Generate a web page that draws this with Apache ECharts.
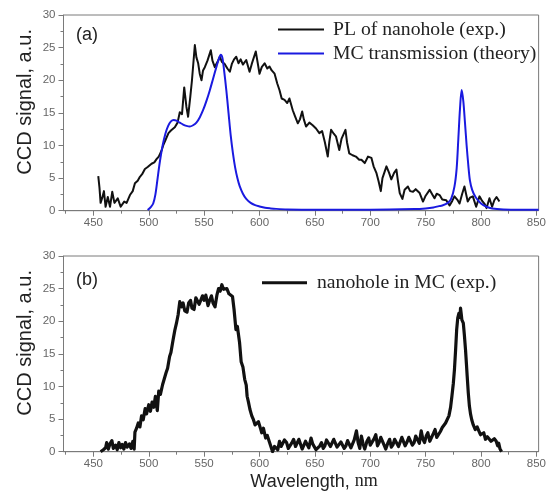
<!DOCTYPE html>
<html>
<head>
<meta charset="utf-8">
<script src="https://cdn.jsdelivr.net/npm/echarts@6/dist/echarts.min.js"></script>
<style>
html,body{margin:0;padding:0;background:#fff;}
#chart{width:549px;height:504px;}
</style>
</head>
<body>
<div id="chart"></div>
<script>
// ---------- data ----------
const xMin = 423, xMax = 852;
const xTickLabels = [450, 500, 550, 600, 650, 700, 750, 800, 850];
const xMinorTicks = [425, 475, 525, 575, 625, 675, 725, 775, 825];
const yTickLabels = [0, 5, 10, 15, 20, 25, 30];

const seriesNames = ['PL of nanohole (exp.)', 'MC transmission (theory)', 'nanohole in MC (exp.)'];
const panelLabels = ['(a)', '(b)'];
const yTitle = 'CCD signal, a.u.';

// (a) PL of nanohole (exp.)
const plWl = [454.4,455.5,456.5,458,459.5,461,463,465,467,469,470,472,474.6,477.8,480,483,485.5,487.5,490,492,494,496.5,499,502.5,505,507,509,511.5,513,515,517.8,520,523.5,526,528,530,532,534,535.5,537.5,539,541.6,543,544.6,546,547.6,549,550.6,553,556,557.5,559.6,561,562.6,564.2,566,568.5,571,573.2,575,577,579,581,583,585,588,591,593,596.6,598,600,602,604.6,607,609,611,613.6,616,618,620,622.6,625,627,630,632,634.6,636.5,638.5,640,642,645,648,651,654,656.5,659,661.6,663,664.6,667,669,672,674,677.6,679,681,684,687,690,692,695,698,701,703,705.5,707.5,709.5,711,714.6,717,719,721.5,723.6,725,726.6,729,731,734,736,738.6,741,744.6,747.6,750,753.6,756,758,760,762.6,765,768.6,771.6,774,776,778.5,780.6,783,785,788,790,792.6,795.6,798.6,801,803,805,807.6,810,812,814,816.6];
const plVal = [5.3,3.5,1.2,2.0,3.0,0.6,2.1,0.6,2.9,1.2,1.0,1.9,0.6,1.4,1.2,2.4,3.0,4.2,4.6,5.2,5.6,6.4,6.7,7.2,7.4,7.9,8.3,9.2,10.0,10.8,11.9,12.3,12.8,13.5,15.1,14.8,18.9,15.9,14.4,17.5,20,25.4,23.5,22.6,21,20,21.5,22,23,24.6,23,22,22.5,23,23.6,22.8,22.5,21.8,21.3,22.5,23.2,23.6,22.6,23.2,22.4,23.1,21.3,22.5,24.4,23,21,22,22.6,21.8,22.1,21.5,21,19.5,18.5,17.2,17,16.5,17.2,15.4,14.5,13.4,14,15.2,14,12.9,13.5,13.1,12.6,11.9,12.2,10.5,8.3,10.5,12.4,11.8,11.4,9.3,11,12.4,10.5,8.8,8.5,8.3,7.8,7.8,7.3,8.3,8.1,6.8,5.8,4.5,3.0,5,6.8,5.8,4.8,5.8,6.3,4.5,2.7,1.8,3.2,3.7,3.0,2.9,3.3,2.7,1.4,2.3,3.2,2.5,1.9,2.6,2.4,1.7,1.6,0.8,1.5,2.2,1.7,1.1,2.6,3.7,1.4,2.0,2.2,0.6,2.2,1.5,1.1,0.4,1.9,0.6,1.6,2.1,1.4];

// (a) MC transmission (theory)
const mcWl = [499,502,504,506,508,510,512.5,515,517.5,520,522.5,525,528,531,534,537,540,543,546,549,552,555,558,561,563.5,565,566.5,568,570,572,574,576,578,580,582,585,588,592,596,600,605,610,615,625,650,700,740,750,757,762,765,770,773,776,778,779.5,781,782.5,784,785.5,787,788.5,790,792,795,800,805,810,820,835,852];
const mcVal = [0.1,0.6,1.1,2.5,5,7.5,10,11.8,13,13.7,13.9,13.8,13.5,13.2,13.0,12.9,13.1,13.5,14.3,15.4,16.8,18.4,20.2,22,23.4,23.9,23.4,21.5,18.5,15,11.5,8.8,6.6,5,3.8,2.6,1.8,1.2,0.85,0.65,0.45,0.35,0.28,0.2,0.15,0.15,0.25,0.35,0.5,0.7,0.8,1.2,1.8,3.7,6.5,11,15.6,18.5,16.8,13.5,10,7,4.6,3.2,2.1,1.1,0.6,0.35,0.2,0.15,0.15];

// (b) nanohole in MC (exp.)
const nhWl = [456.5,459,461,462,463.5,465,466.7,468,470,471.5,473,474.5,476,477.5,479,480.5,482.5,484,485.6,486.8,487.5,489,490.5,492,493.5,495,496.7,498,500,501.5,503,504.5,506,507.7,509,510.5,512.5,514,515.6,517,518.8,520,522,523.5,525,526.5,528,529.5,531,532.5,534.5,536,537.7,539,540.9,542.5,544,545.5,547,548.5,550,551.5,553.5,555,556.6,558,559.8,561.5,563,564.5,566,567.5,569,570.5,572.4,574,575.6,577,578.7,580,582,583.4,585,586.6,588,588.8,590,591.3,593,594.5,596,597.6,599,600,601,602,603.5,605.5,607,608.7,610,611.8,613.5,615,616.5,618,619.5,621,622.5,624.4,626,627.6,629,630.8,632.5,634,635.5,637,638.5,640,641.5,643,644.5,646.5,648,649.7,651,652.8,654.5,656,657.5,659,660.5,662.3,664,665.5,667,668.6,670,671.8,673.5,675,676.5,678,679.5,681,682.5,684,685.5,687.5,689,690.5,692,693.5,695,697,698.6,700,701.7,703.5,705,706.5,708,709.5,711,712.5,714,715.8,717.5,719,720.6,722,723.8,725.5,727,728.5,730,731.5,733,734.8,736.4,738,739.6,741,742.7,744.3,746,747.5,749,750.5,752,753.7,755.4,757,758.5,760,761.7,763.3,765,766.5,768,769.5,771,772.5,773.7,775,776,777,778,779,780,781,781.5,782.2,782.7,784,785,786,786.8,787.5,788.5,789.5,790.5,791.6,793,794.8,796.5,798,799.5,801,802.5,804,805.7,807.4,809,810.6,812,813.7,815,816,817,818.5];
const nhVal = [0,0.3,0.6,1.4,0.4,1.2,1.7,0.5,1.0,0.3,1.4,0.6,1.1,0.4,1.4,0.7,1.2,0.5,1.6,0.4,3.0,3.6,4.4,3.8,5.5,4.9,6.6,5.8,7.2,6.2,7.6,6.8,8.5,6.3,9.3,8.8,10.3,10.0,12.1,12.8,14.6,15.2,17.2,18.6,19.7,21.0,23.0,22.2,22.8,21.6,21.4,22.8,23.2,22.0,21.8,23.6,23.9,22.6,22.8,23.9,23.2,24.0,22.4,23.2,23.9,22.8,22.2,24.0,25.0,24.6,25.6,24.9,24.6,25.0,24.2,24.4,23.8,21.8,18.7,19.2,16.7,13.8,13.0,11.1,10.2,8.5,7.6,6.5,5.5,4.9,4.1,3.9,4.6,4.8,3.5,2.9,3.6,2.1,2.5,1.6,1.9,0,0.8,0.9,0.3,1.6,0.8,0.6,1.8,1.4,0.5,0.4,1.3,1.9,0.8,0.9,1.9,1.6,0.4,0.6,1.6,1.4,0.6,2.1,1.2,0.9,0.3,0,0.9,1.4,0.5,0.9,1.8,1.9,0.8,1.1,1.9,1.6,0.7,0.6,1.5,1.4,0.5,0.9,1.7,1.9,0.6,0.9,1.8,3.2,1.4,0.5,2.4,1.2,0.4,1.6,2.1,1.0,0.9,2.0,2.6,0.9,1.4,2.2,2.4,1.0,0.4,1.3,1.9,0.7,1.1,1.9,2.1,0.8,1.1,2.2,1.9,0.9,1.4,2.2,2.1,1.0,1.4,2.4,2.1,1.3,3.2,1.9,1.4,2.4,2.9,1.6,1.9,2.8,3.4,2.2,2.1,3.1,3.7,3.4,4.4,4.6,5.5,6.8,8.5,10.5,12.6,15.5,18.7,20.5,21.2,20.6,22.0,21.0,20.2,19.7,17.8,15.6,13.5,11.6,9.0,7.0,5.8,4.9,4.1,3.4,3.8,3.2,2.6,2.4,2.9,1.9,2.3,2.1,1.6,1.4,2.0,1.6,0.9,1.3,0.5,0];

const zip = (a, b) => a.map((v, i) => [v, b[i]]);

// ---------- chart ----------
const chart = echarts.init(document.getElementById('chart'), null, {renderer: 'canvas'});
const axisGray = '#7a7a7a';
const tickFont = {fontFamily: "'Liberation Sans', Arial, sans-serif", fontSize: 11.5, color: '#666'};
const serif = "'Liberation Serif', 'Times New Roman', serif";
const sans = "'Liberation Sans', Arial, sans-serif";

const grids = [
  {left: 63.5, right: 10, top: 15, height: 195.7},
  {left: 63.5, right: 10, top: 256, height: 195.7}
];

function mainX(gi, withName) {
  const ax = {
    type: 'value', gridIndex: gi, min: xMin, max: xMax, position: 'bottom',
    axisLine: {show: true, onZero: false, lineStyle: {color: axisGray, width: 1}},
    axisTick: {show: true, length: 5, customValues: xTickLabels, lineStyle: {color: axisGray}},
    axisLabel: {show: true, margin: 6, customValues: xTickLabels, ...tickFont},
    splitLine: {show: false}
  };
  if (withName) {
    ax.name = '{a|Wavelength, }{b|nm}';
    ax.nameLocation = 'middle';
    ax.nameGap = 21;
    ax.nameMoveOverlap = false;
    ax.nameTextStyle = {
      padding: [0, 0, 0, 26],
      rich: {
        a: {fontFamily: sans, fontSize: 18, color: '#222'},
        b: {fontFamily: serif, fontSize: 18, color: '#222'}
      }
    };
  }
  return ax;
}
function minorX(gi) {
  return {
    type: 'value', gridIndex: gi, min: xMin, max: xMax, position: 'bottom',
    axisLine: {show: false},
    axisTick: {show: true, length: 3, customValues: xMinorTicks, lineStyle: {color: axisGray}},
    axisLabel: {show: false},
    splitLine: {show: false}
  };
}
function yAx(gi) {
  return {
    type: 'value', gridIndex: gi, min: yTickLabels[0], max: yTickLabels[yTickLabels.length - 1], interval: 5,
    name: yTitle, nameLocation: 'middle', nameGap: 28, nameRotate: 90, nameMoveOverlap: false,
    nameTextStyle: {fontFamily: sans, fontSize: 20, color: '#222', padding: [0, 0, 0, 22]},
    axisLine: {show: true, lineStyle: {color: axisGray, width: 1}},
    axisTick: {show: true, length: 5, lineStyle: {color: axisGray}},
    minorTick: {show: true, splitNumber: 2, length: 3, lineStyle: {color: axisGray}},
    axisLabel: {show: true, margin: 8, ...tickFont},
    splitLine: {show: false}, minorSplitLine: {show: false}
  };
}

const option = {
  backgroundColor: '#fff',
  animation: false,
  grid: grids.map(g => ({...g, show: true, borderColor: axisGray, borderWidth: 1, backgroundColor: 'transparent'})),
  xAxis: [mainX(0, false), minorX(0), mainX(1, true), minorX(1)],
  yAxis: [yAx(0), yAx(1)],
  legend: [
    {
      data: [seriesNames[0], seriesNames[1]],
      orient: 'vertical', left: 278, top: 19.5, itemGap: 4, padding: 0,
      itemWidth: 46, itemHeight: 2.2, icon: 'rect',
      textStyle: {fontFamily: serif, fontSize: 19.7, lineHeight: 20, color: '#222', padding: [0, 0, 0, 4]},
      selectedMode: false
    },
    {
      data: [seriesNames[2]],
      orient: 'vertical', left: 262, top: 272.7, padding: 0,
      itemWidth: 45, itemHeight: 3, icon: 'rect',
      textStyle: {fontFamily: serif, fontSize: 19.7, lineHeight: 20, color: '#222', padding: [0, 0, 0, 5]},
      selectedMode: false
    }
  ],
  graphic: [
    {type: 'text', left: 76, top: 26, style: {text: panelLabels[0], font: "18px 'Liberation Sans', Arial, sans-serif", fill: '#222'}},
    {type: 'text', left: 76, top: 271, style: {text: panelLabels[1], font: "18px 'Liberation Sans', Arial, sans-serif", fill: '#222'}}
  ],
  series: [
    {
      name: seriesNames[0], type: 'line', xAxisIndex: 0, yAxisIndex: 0,
      data: zip(plWl, plVal), showSymbol: false, symbol: 'none',
      lineStyle: {color: '#111', width: 2, join: 'round'}, itemStyle: {color: '#111'}, z: 2
    },
    {
      name: seriesNames[1], type: 'line', xAxisIndex: 0, yAxisIndex: 0,
      data: zip(mcWl, mcVal), showSymbol: false, symbol: 'none', smooth: 0.3,
      lineStyle: {color: '#1a1ae0', width: 2}, itemStyle: {color: '#1a1ae0'}, z: 3
    },
    {
      name: seriesNames[2], type: 'line', xAxisIndex: 2, yAxisIndex: 1,
      data: zip(nhWl, nhVal), showSymbol: false, symbol: 'none',
      lineStyle: {color: '#111', width: 3.2, join: 'round'}, itemStyle: {color: '#111'}, z: 2
    }
  ]
};
chart.setOption(option);
</script>
</body>
</html>
